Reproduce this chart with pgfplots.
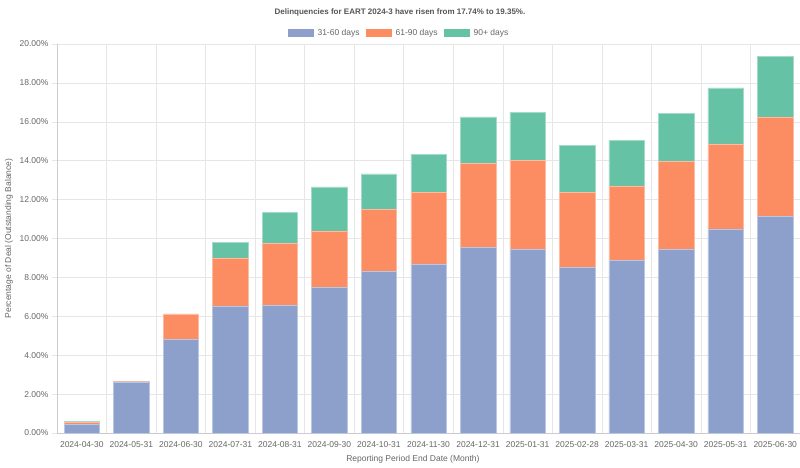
\documentclass[border=0pt]{standalone}
\usepackage{fontspec}
\setmainfont{Liberation Sans}
\usepackage{pgfplots}
\usepackage{pgfplotstable}
\pgfplotsset{compat=1.18}

\definecolor{c1}{HTML}{8DA0CB}
\definecolor{c2}{HTML}{FC8D62}
\definecolor{c3}{HTML}{66C2A5}
\definecolor{txt}{HTML}{666666}
\definecolor{ttl}{HTML}{555555}
\definecolor{gridc}{HTML}{E6E6E6}
\definecolor{axc}{HTML}{CCCCCC}

% 31-60, 61-90, 90+ (percent of outstanding balance)
\pgfplotstableread{
x   a      b     c
0   0.45   0.08  0.05
1   2.63   0.03  0.00
2   4.83   1.29  0.00
3   6.53   2.47  0.82
4   6.58   3.17  1.60
5   7.49   2.90  2.27
6   8.31   3.17  1.84
7   8.69   3.68  1.97
8   9.56   4.32  2.37
9   9.46   4.54  2.49
10  8.52   3.87  2.40
11  8.88   3.82  2.33
12  9.44   4.53  2.45
13  10.50  4.37  2.87
14  11.14  5.11  3.10
}\deal

\begin{document}
\begin{tikzpicture}
\begin{axis}[
  at={(57pt,34pt)}, anchor=south west,
  scale only axis, width=743pt, height=389pt,
  ybar stacked, bar width=35.5pt,
  xmin=-0.5, xmax=14.5, ymin=0, ymax=20,
  xtick={0,...,14},
  xticklabels={2024-04-30,2024-05-31,2024-06-30,2024-07-31,2024-08-31,2024-09-30,2024-10-31,2024-11-30,2024-12-31,2025-01-31,2025-02-28,2025-03-31,2025-04-30,2025-05-31,2025-06-30},
  minor xtick={-0.5,0.5,...,14.5},
  ytick={0,2,...,20},
  xminorgrids, ymajorgrids,
  grid style={gridc, line width=0.6pt},
  minor grid style={gridc, line width=0.6pt},
  axis lines*=left,
  axis line style={axc, line width=0.6pt},
  tick align=outside,
  major tick length=5pt, minor tick length=5pt,
  xtick style={draw=none},
  minor x tick style={gridc, line width=0.6pt},
  ytick style={gridc, line width=0.6pt},
  ticklabel style={font=\fontsize{8.5}{10}\selectfont, text=txt},
  /pgf/number format/assume math mode=true,
  yticklabel={\pgfmathprintnumber[fixed,fixed zerofill,precision=2]{\tick}\%},
  xlabel={Reporting Period End Date (Month)},
  ylabel={Percentage of Deal (Outstanding Balance)},
  label style={font=\fontsize{8.5}{10}\selectfont, text=txt},
  xlabel style={at={(axis description cs:0.479,-0.067)}, anchor=center},
  every axis title shift=0pt,
  title={Delinquencies for EART 2024-3 have risen from 17.74\% to 19.35\%.},
  title style={at={(axis description cs:0.4616,1.082)}, anchor=center, yshift=0pt,
    font=\bfseries\fontsize{8}{10}\selectfont, text=ttl},
  legend columns=3,
  legend style={at={(axis description cs:0.4616,1.028)}, anchor=center,
    draw=none, fill=none, font=\fontsize{8.5}{10}\selectfont, text=txt,
    nodes={inner xsep=4pt},
    /tikz/every even column/.append style={column sep=2pt}},
  lbox/.style={legend image code/.code={\fill[##1,draw=none] (0pt,-4pt) rectangle (26pt,4pt);}},
]
\addplot[fill=c1, draw=c1!60!white, line width=0.5pt, lbox] table[x=x,y=a]{\deal};
\addlegendentry{31-60 days}
\addplot[fill=c2, draw=c2!60!white, line width=0.5pt, lbox] table[x=x,y=b]{\deal};
\addlegendentry{61-90 days}
\addplot[fill=c3, draw=c3!60!white, line width=0.5pt, lbox] table[x=x,y=c]{\deal};
\addlegendentry{90+ days}
\end{axis}
\pgfresetboundingbox
\path (0,0) rectangle (800pt,467pt);
\end{tikzpicture}
\end{document}
